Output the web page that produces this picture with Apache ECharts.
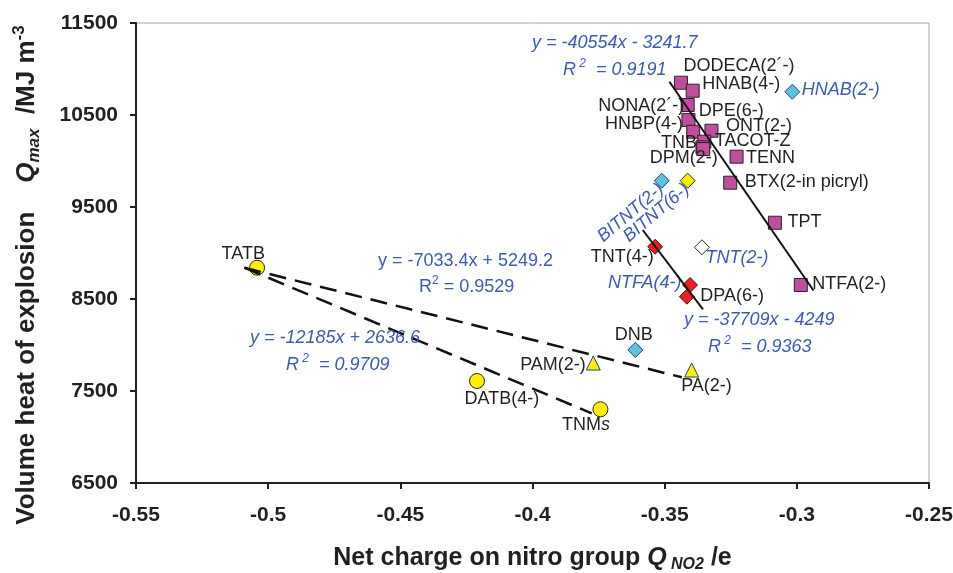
<!DOCTYPE html>
<html>
<head>
<meta charset="utf-8">
<script src="https://cdn.jsdelivr.net/npm/echarts@6/dist/echarts.min.js"></script>
<style>
  html, body { margin: 0; padding: 0; background: #fff; }
  #chart { width: 953px; height: 573px; }
</style>
</head>
<body>
<div id="chart"></div>
<script>
// axis ticks
const xTicks = [-0.55, -0.5, -0.45, -0.4, -0.35, -0.3, -0.25];
const yTicks = [6500, 7500, 8500, 9500, 10500, 11500];

// magenta squares
const sqNames = ['DODECA(2´-)', 'HNAB(4-)', 'NONA(2´-)', 'HNBP(4-)', 'DPE(6-)', 'ONT(2-)', 'TACOT-Z', 'TNB', 'DPM(2-)', 'TENN', 'BTX(2-in picryl)', 'TPT', 'NTFA(2-)'];
const sqX = [-0.3438, -0.3394, -0.3413, -0.3410, -0.3392, -0.3323, -0.3350, -0.3357, -0.3354, -0.3228, -0.3252, -0.3083, -0.2985];
const sqY = [10851, 10764, 10609, 10446, 10318, 10329, 10210, 10149, 10130, 10047, 9764, 9329, 8652];

// cyan diamonds
const cyNames = ['HNAB(2-)', 'BITNT(2-)', 'DNB'];
const cyX = [-0.3017, -0.3511, -0.3611];
const cyY = [10753, 9786, 7946];

// yellow diamond, white diamond
const ydNames = ['BITNT(6-)'];
const ydX = [-0.3413];
const ydY = [9786];
const wdNames = ['TNT(2-)'];
const wdX = [-0.3359];
const wdY = [9062];

// red diamonds
const rdNames = ['TNT(4-)', 'NTFA(4-)', 'DPA(6-)'];
const rdX = [-0.3536, -0.3404, -0.3416];
const rdY = [9068, 8652, 8525];

// yellow triangles
const trNames = ['PAM(2-)', 'PA(2-)'];
const trX = [-0.3770, -0.3398];
const trY = [7804, 7728];

// yellow circles
const ciNames = ['TATB', 'DATB(4-)', 'TNMs'];
const ciX = [-0.5042, -0.4210, -0.3743];
const ciY = [8840, 7609, 7301];

// trend lines, end points
const fit1 = [[-0.3482, 10862], [-0.2937, 8592]];
const fit2 = [[-0.3583, 9250], [-0.3355, 8388]];
const fit3 = [[-0.5090, 8840], [-0.3435, 7649]];
const fit4 = [[-0.5090, 8840], [-0.3776, 7257]];

const FONT = 'Liberation Sans, Arial, sans-serif';
const INK = '#231F20';
const BLUE = '#3D5BAA';
const blueNames = ['HNAB(2-)', 'BITNT(2-)', 'BITNT(6-)', 'TNT(2-)', 'NTFA(4-)'];

// label placement: dx, dy from the marker centre, align, rotate
const lab = {
  'DODECA(2´-)': [3, -16, 'left'],
  'HNAB(4-)': [10, -6, 'left'],
  'NONA(2´-)': [-3, 2, 'right'],
  'HNBP(4-)': [-5, 5, 'right'],
  'DPE(6-)': [6, -20, 'left'],
  'ONT(2-)': [15, -4, 'left'],
  'TACOT-Z': [11, 0, 'left'],
  'TNB': [-5, -4, 'right'],
  'DPM(2-)': [-53, 9, 'left'],
  'TENN': [10, 2, 'left'],
  'BTX(2-in picryl)': [15, 0, 'left'],
  'TPT': [13, 0, 'left'],
  'NTFA(2-)': [12, 0, 'left'],
  'HNAB(2-)': [10, -1, 'left'],
  'BITNT(2-)': [0, 7, 'right', 40],
  'BITNT(6-)': [0, 7, 'right', 40],
  'DNB': [-1, -14, 'center'],
  'TNT(2-)': [4, 11, 'left'],
  'TNT(4-)': [-1, 11, 'right'],
  'NTFA(4-)': [-8, -2, 'right'],
  'DPA(6-)': [14, 0, 'left'],
  'PAM(2-)': [-7, 2, 'right'],
  'PA(2-)': [-10, 17, 'left'],
  'TATB': [-35, -13, 'left'],
  'DATB(4-)': [-12, 19, 'left'],
  'TNMs': [-38, 16, 'left']
};

function points(names, xs, ys, size) {
  return names.map(function (n, i) {
    const L = lab[n];
    const blue = blueNames.indexOf(n) >= 0;
    return {
      name: n,
      value: [xs[i], ys[i]],
      label: {
        show: true,
        formatter: n === 'TNMs' ? 'TNM{i|s}' : n,
        position: [size / 2 + L[0], size / 2 + L[1]],
        align: L[2],
        verticalAlign: 'middle',
        rotate: L[3] || 0,
        fontFamily: FONT,
        fontSize: 18,
        fontStyle: blue ? 'italic' : 'normal',
        color: blue ? BLUE : INK,
        rich: { i: { fontFamily: FONT, fontSize: 18, fontStyle: 'italic', color: INK } }
      }
    };
  });
}

function scatter(names, xs, ys, symbol, size, fill, border) {
  return {
    type: 'scatter',
    symbol: symbol,
    symbolSize: size,
    z: 2,
    silent: true,
    itemStyle: { color: fill, borderColor: border, borderWidth: 1, opacity: 1 },
    data: points(names, xs, ys, size)
  };
}

function fitLine(pts, dashed) {
  return {
    type: 'line',
    data: pts,
    z: 3,
    silent: true,
    showSymbol: false,
    symbol: 'none',
    lineStyle: dashed
      ? { color: '#111', width: 2.5, type: [17, 9] }
      : { color: '#111', width: 2, type: 'solid' }
  };
}

function eqText(x, y, txt, italic) {
  const st = italic ? 'italic' : 'normal';
  return {
    type: 'text',
    x: x,
    y: y,
    z: 10,
    style: {
      text: txt,
      verticalAlign: 'middle',
      rich: {
        t: { fontFamily: FONT, fontSize: 18, fontStyle: st, fill: BLUE, color: BLUE, lineHeight: 24 },
        s: { fontFamily: FONT, fontSize: 12, fontStyle: st, fill: BLUE, color: BLUE, lineHeight: 14, verticalAlign: 'top' }
      }
    }
  };
}

const chart = echarts.init(document.getElementById('chart'));
chart.setOption({
  animation: false,
  backgroundColor: '#fff',
  grid: {
    left: 136, right: 24, top: 23, bottom: 90,
    outerBoundsMode: 'none',
    show: true, borderColor: '#A6A6A6', borderWidth: 1
  },
  xAxis: {
    type: 'value',
    min: -0.55,
    max: -0.25,
    splitLine: { show: false },
    axisLine: { lineStyle: { color: INK, width: 2 } },
    axisTick: { customValues: xTicks, length: 6, lineStyle: { color: INK, width: 2 } },
    axisLabel: {
      customValues: xTicks,
      margin: 22,
      fontFamily: FONT, fontSize: 21, fontWeight: 'bold', color: INK,
      formatter: function (v) { return String(Math.round(v * 100) / 100); }
    },
    name: '{t|Net charge on nitro group }{q|Q}{n| NO2}{t| /e}',
    nameLocation: 'middle',
    nameGap: 60,
    nameTextStyle: {
      rich: {
        t: { fontFamily: FONT, fontSize: 25, fontWeight: 'bold', color: INK, lineHeight: 30 },
        q: { fontFamily: FONT, fontSize: 25, fontWeight: 'bold', fontStyle: 'italic', color: INK, lineHeight: 30 },
        n: { fontFamily: FONT, fontSize: 16, fontWeight: 'bold', fontStyle: 'italic', color: INK, lineHeight: 20, verticalAlign: 'bottom' }
      }
    }
  },
  yAxis: {
    type: 'value',
    min: 6500,
    max: 11500,
    splitLine: { show: false },
    axisLine: { lineStyle: { color: INK, width: 2 } },
    axisTick: { customValues: yTicks, length: 6, lineStyle: { color: INK, width: 2 } },
    axisLabel: {
      customValues: yTicks,
      margin: 18,
      fontFamily: FONT, fontSize: 21, fontWeight: 'bold', color: INK,
      formatter: function (v) { return String(v); }
    }
  },
  series: [
    scatter(sqNames, sqX, sqY, 'rect', 13, '#BF4F9E', '#2B2326'),
    scatter(cyNames, cyX, cyY, 'diamond', 15, '#5CC3DB', '#23408E'),
    scatter(ydNames, ydX, ydY, 'diamond', 15, '#FFEF00', '#2B2326'),
    scatter(wdNames, wdX, wdY, 'diamond', 15, '#FFFFFF', '#2B2326'),
    scatter(rdNames, rdX, rdY, 'diamond', 15, '#EE1D23', '#2B2326'),
    scatter(trNames, trX, trY, 'triangle', 14, '#FFEF00', '#23408E'),
    scatter(ciNames, ciX, ciY, 'circle', 15, '#FFEF00', '#2B2326'),
    fitLine(fit1, false),
    fitLine(fit2, false),
    fitLine(fit3, true),
    fitLine(fit4, true)
  ],
  graphic: [
    {
      // y axis title
      type: 'text',
      x: 27,
      y: 275,
      rotation: Math.PI / 2,
      style: {
        text: '{t|Volume heat of explosion    }{q|Q}{n|max}{t|  /MJ m}{p|-3}',
        align: 'center',
        verticalAlign: 'middle',
        rich: {
          t: { fontFamily: FONT, fontSize: 26, fontWeight: 'bold', fill: INK, color: INK, lineHeight: 32 },
          q: { fontFamily: FONT, fontSize: 26, fontWeight: 'bold', fontStyle: 'italic', fill: INK, color: INK, lineHeight: 32 },
          n: { fontFamily: FONT, fontSize: 17, fontWeight: 'bold', fontStyle: 'italic', fill: INK, color: INK, lineHeight: 20, verticalAlign: 'bottom' },
          p: { fontFamily: FONT, fontSize: 17, fontWeight: 'bold', fill: INK, color: INK, lineHeight: 20, verticalAlign: 'top' }
        }
      }
    },
    eqText(532, 43, '{t|y = -40554x - 3241.7}', true),
    eqText(563, 70, '{t|R}{s| 2}{t|  = 0.9191}', true),
    eqText(684, 320, '{t|y = -37709x - 4249}', true),
    eqText(708, 347, '{t|R}{s| 2}{t|  = 0.9363}', true),
    eqText(378, 261, '{t|y = -7033.4x + 5249.2}', false),
    eqText(419, 287, '{t|R}{s|2}{t| = 0.9529}', false),
    eqText(250, 338, '{t|y = -12185x + 2636.6}', true),
    eqText(286, 365, '{t|R}{s| 2}{t|  = 0.9709}', true)
  ]
});
</script>
</body>
</html>
